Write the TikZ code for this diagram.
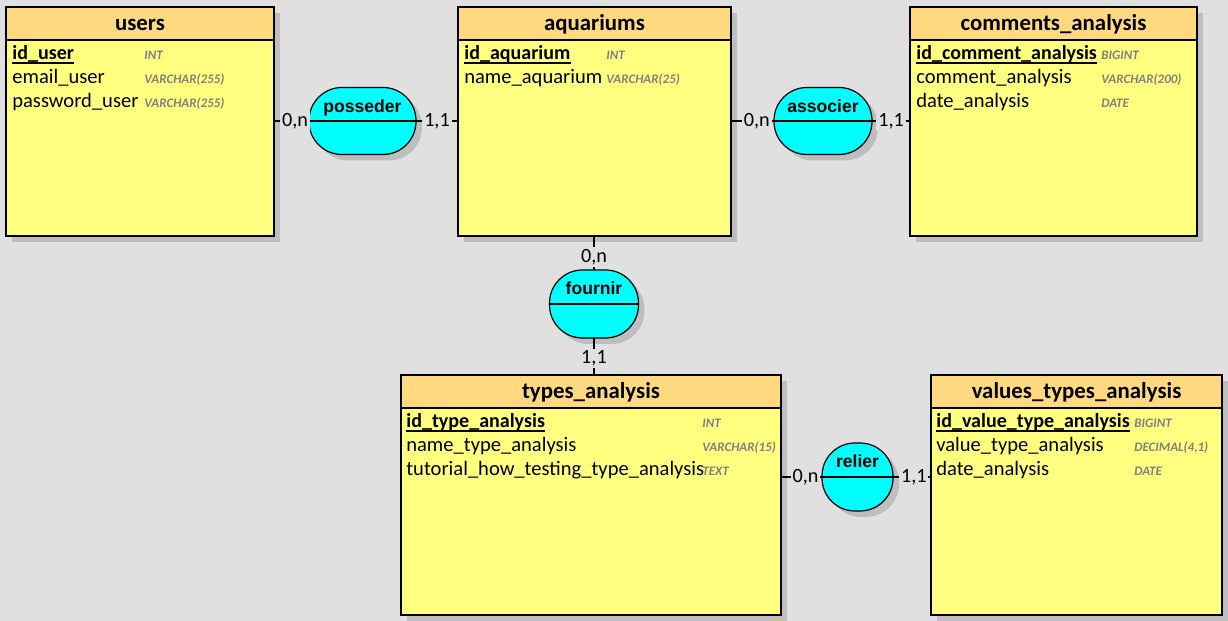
\documentclass[tikz,border=0pt]{standalone}
\usepackage{fontspec}
\setmainfont{Carlito}
\newfontfamily\assocfont{Liberation Sans}
\usetikzlibrary{shadows}

\definecolor{bggrey}{RGB}{224,224,224}
\definecolor{shadowgrey}{RGB}{190,190,190}
\definecolor{headorange}{RGB}{255,217,128}
\definecolor{bodyyellow}{RGB}{255,255,128}
\definecolor{assoccyan}{RGB}{0,255,255}
\definecolor{typegrey}{RGB}{128,128,128}

\tikzset{
  boxshadow/.style={drop shadow={shadow xshift=0.12cm, shadow yshift=-0.12cm, fill=shadowgrey, opacity=1}},
  entitybox/.style={draw, line width=0.7pt, fill=bodyyellow, inner sep=0, outer sep=0, boxshadow},
  headbox/.style={draw, line width=0.7pt, fill=headorange, anchor=north, minimum height=0.66cm,
    inner sep=0, outer sep=0, text height=9.4pt, text depth=2pt,
    font=\fontsize{13}{15}\selectfont\bfseries},
  attr/.style={anchor=base west, inner sep=0, font=\fontsize{11.7}{13}\selectfont},
  keyattr/.style={attr, font=\fontsize{11.4}{13}\selectfont\bfseries},
  keyline/.style={line width=1pt},
  sqltype/.style={anchor=base west, inner sep=0, text=typegrey,
    font=\fontsize{7.4}{9}\selectfont\bfseries\itshape},
  assocbox/.style={draw, line width=0.7pt, fill=assoccyan, rounded corners=0.66cm,
    inner sep=0, outer sep=0, boxshadow},
  assocname/.style={anchor=base, inner sep=0, font=\assocfont\bfseries\fontsize{10}{12}\selectfont},
  link/.style={line width=0.7pt},
  card/.style={fill=bggrey, inner sep=1pt, font=\fontsize{11.5}{13}\selectfont}
}

\begin{document}
\begin{tikzpicture}[x=0.02cm, y=-0.02cm]
  \fill[bggrey] (0,0) rectangle (1228,621);

  % users
  \node[entitybox, minimum width=5.36cm, minimum height=4.58cm] (users) at (140,121.5) {};
  \node[headbox, minimum width=5.36cm] (usershead) at (users.north) {users};
  \node[keyattr] (iduser) at (12,59.5) {id\_user};
  \node[attr] (emailuser) at (12,83.5) {email\_user};
  \node[attr] (passworduser) at (12,108) {password\_user};
  \node[sqltype] (iduserT) at (144,59.5) {INT};
  \node[sqltype] (emailuserT) at (144,83.5) {VARCHAR(255)};
  \node[sqltype] (passworduserT) at (144,108) {VARCHAR(255)};
  \draw[keyline] ([yshift=-1.8pt]iduser.base west) -- ([yshift=-1.8pt]iduser.base east);

  % aquariums
  \node[entitybox, minimum width=5.46cm, minimum height=4.58cm] (aquariums) at (594.5,121.5) {};
  \node[headbox, minimum width=5.46cm] (aquariumshead) at (aquariums.north) {aquariums};
  \node[keyattr] (idaquarium) at (464,59.5) {id\_aquarium};
  \node[attr] (nameaquarium) at (464,83.5) {name\_aquarium};
  \node[sqltype] (idaquariumT) at (606,59.5) {INT};
  \node[sqltype] (nameaquariumT) at (606,83.5) {VARCHAR(25)};
  \draw[keyline] ([yshift=-1.8pt]idaquarium.base west) -- ([yshift=-1.8pt]idaquarium.base east);

  % comments_analysis
  \node[entitybox, minimum width=5.74cm, minimum height=4.58cm] (comments) at (1053.5,121.5) {};
  \node[headbox, minimum width=5.74cm] (commentshead) at (comments.north) {comments\_analysis};
  \node[keyattr] (idcomment) at (916,59.5) {id\_comment\_analysis};
  \node[attr] (comment) at (916,83.5) {comment\_analysis};
  \node[attr] (datecomment) at (916,108) {date\_analysis};
  \node[sqltype] (idcommentT) at (1101,59.5) {BIGINT};
  \node[sqltype] (commentT) at (1101,83.5) {VARCHAR(200)};
  \node[sqltype] (datecommentT) at (1101,108) {DATE};
  \draw[keyline] ([yshift=-1.8pt]idcomment.base west) -- ([yshift=-1.8pt]idcomment.base east);

  % types_analysis
  \node[entitybox, minimum width=7.6cm, minimum height=4.8cm] (types) at (591,495) {};
  \node[headbox, minimum width=7.6cm] (typeshead) at (types.north) {types\_analysis};
  \node[keyattr] (idtype) at (406,427.5) {id\_type\_analysis};
  \node[attr] (nametype) at (406,452) {name\_type\_analysis};
  \node[attr] (tutorialtype) at (406,476) {tutorial\_how\_testing\_type\_analysis};
  \node[sqltype] (idtypeT) at (702,427.5) {INT};
  \node[sqltype] (nametypeT) at (702,452) {VARCHAR(15)};
  \node[sqltype] (tutorialtypeT) at (702,476) {TEXT};
  \draw[keyline] ([yshift=-1.8pt]idtype.base west) -- ([yshift=-1.8pt]idtype.base east);

  % values_types_analysis
  \node[entitybox, minimum width=5.82cm, minimum height=4.8cm] (values) at (1076.5,495) {};
  \node[headbox, minimum width=5.82cm] (valueshead) at (values.north) {values\_types\_analysis};
  \node[keyattr] (idvalue) at (936,427.5) {id\_value\_type\_analysis};
  \node[attr] (valuetype) at (936,452) {value\_type\_analysis};
  \node[attr] (datevalue) at (936,476) {date\_analysis};
  \node[sqltype] (idvalueT) at (1134,427.5) {BIGINT};
  \node[sqltype] (valuetypeT) at (1134,452) {DECIMAL(4,1)};
  \node[sqltype] (datevalueT) at (1134,476) {DATE};
  \draw[keyline] ([yshift=-1.8pt]idvalue.base west) -- ([yshift=-1.8pt]idvalue.base east);

  % associations
  \node[assocbox, minimum width=2.14cm, minimum height=1.34cm] (posseder) at (362.5,121) {};
  \draw[link] (posseder.west) -- (posseder.east);
  \node[assocname] (possedername) at ([yshift=0.17cm]posseder.center) {posseder};

  \node[assocbox, minimum width=1.96cm, minimum height=1.34cm] (associer) at (823,121) {};
  \draw[link] (associer.west) -- (associer.east);
  \node[assocname] (associername) at ([yshift=0.17cm]associer.center) {associer};

  \node[assocbox, minimum width=1.78cm, minimum height=1.36cm] (fournir) at (594,304) {};
  \draw[link] (fournir.west) -- (fournir.east);
  \node[assocname] (fournirname) at ([yshift=0.19cm]fournir.center) {fournir};

  \node[assocbox, minimum width=1.42cm, minimum height=1.36cm] (relier) at (857.5,477) {};
  \draw[link] (relier.west) -- (relier.east);
  \node[assocname] (reliername) at ([yshift=0.19cm]relier.center) {relier};

  % links
  \draw[link] (users.east |- posseder.west) -- (posseder.west) node[card, pos=0.6] (possederA) {0,n};
  \draw[link] (posseder.east) -- (aquariums.west |- posseder.east) node[card, midway] (possederB) {1,1};
  \draw[link] (aquariums.east |- associer.west) -- (associer.west) node[card, pos=0.6] (associerA) {0,n};
  \draw[link] (associer.east) -- (comments.west |- associer.east) node[card, midway] (associerB) {1,1};
  \draw[link] (fournir.north |- aquariums.south) -- (fournir.north) node[card, pos=0.62] (fournirA) {0,n};
  \draw[link] (fournir.south) -- (fournir.south |- types.north) node[card, pos=0.55] (fournirB) {1,1};
  \draw[link] (types.east |- relier.west) -- (relier.west) node[card, pos=0.6] (relierA) {0,n};
  \draw[link] (relier.east) -- (values.west |- relier.east) node[card, pos=0.55] (relierB) {1,1};
\end{tikzpicture}
\end{document}
